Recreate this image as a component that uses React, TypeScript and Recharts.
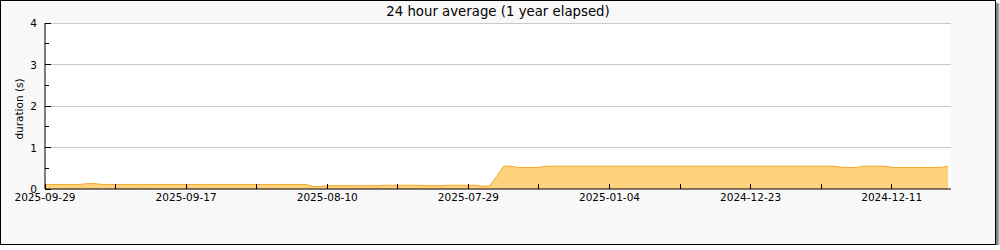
import { Area, AreaChart, CartesianGrid, Label, ReferenceLine, XAxis, YAxis } from "recharts";

const xTickLabels = [
  "2025-09-29",
  "2025-09-17",
  "2025-08-10",
  "2025-07-29",
  "2025-01-04",
  "2024-12-23",
  "2024-12-11",
];
const xTicks = [0, 10, 20, 30, 40, 50, 60, 70, 80, 90, 100, 110, 120];
const yTicks = [0, 0.5, 1, 1.5, 2, 2.5, 3, 3.5, 4];
const gridValues = [1, 2, 3, 4];

// 24h average duration (s), one sample per step
const avgDuration = [
  0.11, 0.11, 0.11, 0.11, 0.11, 0.11, 0.13, 0.13, 0.11, 0.11,
  0.11, 0.11, 0.11, 0.11, 0.11, 0.11, 0.11, 0.11, 0.11, 0.11,
  0.11, 0.11, 0.11, 0.11, 0.11, 0.11, 0.11, 0.11, 0.11, 0.11,
  0.11, 0.11, 0.11, 0.11, 0.11, 0.11, 0.11, 0.11, 0.06, 0.06,
  0.08, 0.08, 0.08, 0.08, 0.08, 0.08, 0.08, 0.08, 0.09, 0.09,
  0.09, 0.09, 0.09, 0.09, 0.08, 0.08, 0.08, 0.09, 0.09, 0.09,
  0.09, 0.09, 0.07, 0.07, 0.3, 0.55, 0.55, 0.52, 0.52, 0.52,
  0.52, 0.55, 0.55, 0.55, 0.55, 0.55, 0.55, 0.55, 0.55, 0.55,
  0.55, 0.55, 0.55, 0.55, 0.55, 0.55, 0.55, 0.55, 0.55, 0.55,
  0.55, 0.55, 0.55, 0.55, 0.55, 0.55, 0.55, 0.55, 0.55, 0.55,
  0.55, 0.55, 0.55, 0.55, 0.55, 0.55, 0.55, 0.55, 0.55, 0.55,
  0.55, 0.55, 0.55, 0.52, 0.52, 0.52, 0.55, 0.55, 0.55, 0.55,
  0.52, 0.52, 0.52, 0.52, 0.52, 0.52, 0.52, 0.52, 0.55,
];

const data = avgDuration.map((v, i) => ({ idx: i, dur: v }));

const FONT = "'DejaVu Sans', sans-serif";

const YTick = (props: any) => {
  const { x, y, payload } = props;
  const major = Number.isInteger(payload.value);
  return (
    <g>
      <line x1={x} x2={x + (major ? 6 : 4)} y1={y} y2={y} stroke="#000" shapeRendering="crispEdges" />
      {major && (
        <text x={x - 8} y={y} textAnchor="end" dominantBaseline="central" fontSize={10.5} fontFamily={FONT} fill="#000">
          {payload.value}
        </text>
      )}
    </g>
  );
};

const XTick = (props: any) => {
  const { x, y, payload } = props;
  const i = payload.value / 10;
  return (
    <g>
      <line x1={x} x2={x} y1={y} y2={y - 5} stroke="#000" shapeRendering="crispEdges" />
      {i % 2 === 0 && (
        <text x={x} y={y + 8} textAnchor="middle" dominantBaseline="central" fontSize={10.5} fontFamily={FONT} fill="#000">
          {xTickLabels[i / 2]}
        </text>
      )}
    </g>
  );
};

export default function App() {
  return (
    <>
      <style>{`body{margin:0}`}</style>
      <div
        style={{
          position: "relative",
          width: 994,
          height: 243,
          border: "1px solid #000",
          background: "#f8f8f8",
          boxShadow: "3px 3px 2px #808080",
          fontFamily: FONT,
        }}
      >
        <div
          style={{
            position: "absolute",
            top: 3,
            left: 0,
            width: "100%",
            textAlign: "center",
            fontSize: 13.3,
            lineHeight: "16px",
            color: "#000",
          }}
        >
          24 hour average (1 year elapsed)
        </div>
        <AreaChart width={994} height={243} data={data} margin={{ top: 22, right: 44, left: 0, bottom: 0 }}>
          <CartesianGrid horizontal={false} vertical={false} fill="#fff" />
          {gridValues.map((v) => (
            <ReferenceLine key={v} y={v} stroke="#c8c8c8" shapeRendering="crispEdges" />
          ))}
          <XAxis
            dataKey="idx"
            type="number"
            domain={[0, 128.4]}
            ticks={xTicks}
            allowDataOverflow
            height={55}
            tickSize={0}
            tickMargin={0}
            tick={<XTick />}
            axisLine={{ stroke: "#000" }}
            tickLine={false}
            interval={0}
          />
          <YAxis
            type="number"
            domain={[0, 4]}
            ticks={yTicks}
            width={44}
            tickSize={0}
            tickMargin={0}
            tick={<YTick />}
            axisLine={{ stroke: "#000" }}
            tickLine={false}
            interval={0}
          >
            <Label
              content={() => (
                <text
                  transform="translate(18,108) rotate(-90)"
                  textAnchor="middle"
                  dominantBaseline="central"
                  fontSize={10.5}
                  fontFamily={FONT}
                  fill="#000"
                >
                  duration (s)
                </text>
              )}
            />
          </YAxis>
          <Area
            type="linear"
            dataKey="dur"
            stroke="#f5a623"
            strokeWidth={1}
            fill="#ffd280"
            fillOpacity={1}
            isAnimationActive={false}
            dot={false}
            activeDot={false}
          />
        </AreaChart>
      </div>
    </>
  );
}
